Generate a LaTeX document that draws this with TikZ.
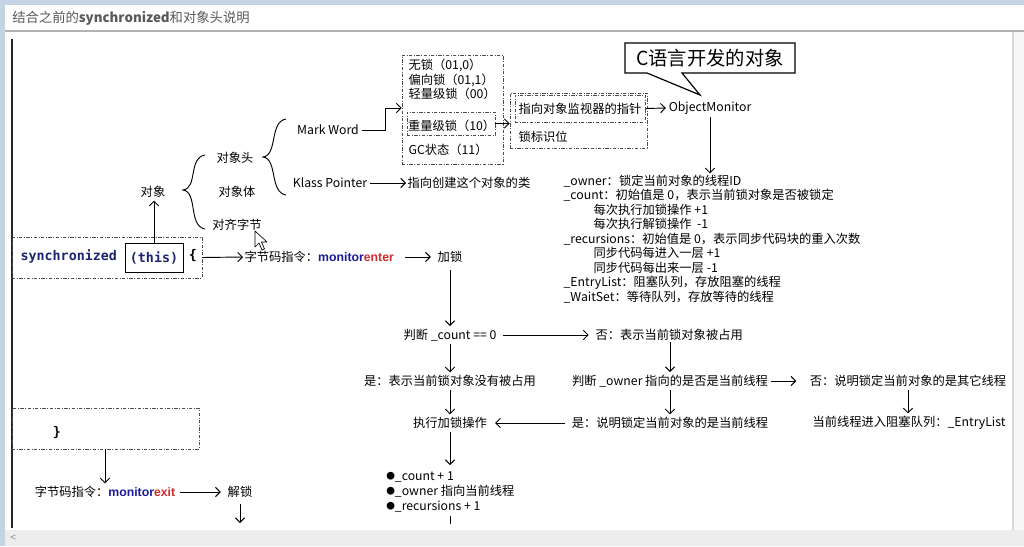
\documentclass[tikz,border=0pt]{standalone}
\usepackage{fontspec}
\setmainfont{Noto Sans CJK SC}
\newfontfamily\codefont{DejaVu Sans Mono}
\newfontfamily\latb{Liberation Sans}
\usetikzlibrary{arrows.meta}
\definecolor{navy}{HTML}{1B2570}
\definecolor{mblue}{HTML}{1A1A9A}
\definecolor{mred}{HTML}{D22B2B}
\definecolor{winblue}{HTML}{C5D3E4}
\definecolor{bargray}{HTML}{EDEDED}
\newcommand{\blt}{\raisebox{0.6pt}{\fontsize{6.5}{7}\selectfont ●}}
\begin{document}
\begin{tikzpicture}[x=0.75pt,y=-0.75pt,
  font=\fontsize{9.2}{11}\selectfont,
  arr/.style={-{Straight Barb[length=3.5pt,width=7pt]}, line width=0.7pt},
  ln/.style={line width=0.7pt},
  dbox/.style={draw=black!70, line width=0.6pt, dash pattern=on 2.5pt off 1.2pt on 0.6pt off 1.2pt},
  txt/.style={inner sep=1pt, anchor=west},
  ctxt/.style={inner sep=2pt},
  mon/.style={font=\fontsize{9.2}{11}\selectfont\latb\bfseries}
]
\useasboundingbox (0,0) rectangle (1024,546);
% ---------- window frame ----------
\fill[white] (0,0) rectangle (1024,546);
\fill[winblue] (0,0) rectangle (1024,5);
\fill[winblue] (0,0) rectangle (5,546);
\draw[black!30, line width=0.8pt] (5,31) -- (1024,31);
\fill[black!3] (1013,32) rectangle (1024,530);
\draw[black!15, line width=0.8pt] (1013,32) -- (1013,530);
\fill[bargray] (5,530) rectangle (1024,546);
\node[text=black!45, inner sep=0, font=\fontsize{8}{9}\selectfont] (lt) at (13,538) {<};
\draw[black!85, line width=1pt] (12,39) -- (12,528);
\node[anchor=west, inner sep=0, text=black!65, font=\fontsize{10}{12}\selectfont] (title) at (12,18) {结合之前的{\bfseries synchronized}和对象头说明};

% ---------- object structure ----------
\node[ctxt] (obj) at (153,192) {对象};
\node[ctxt] (head) at (235,158) {对象头};
\node[ctxt] (body) at (237,192) {对象体};
\node[ctxt] (pad) at (237,225) {对齐字节};
\draw[ln] (205,155) .. controls (188,158) and (198,188) .. (183,190) .. controls (198,192) and (188,226) .. (205,229);
\draw[ln] (286,119) .. controls (269,122) and (278,155) .. (263,157) .. controls (278,159) and (269,192) .. (286,195);
\node[ctxt] (mw) at (328,130) {Mark Word};
\node[ctxt] (kp) at (330,183) {Klass Pointer};
\node[txt] (kcls) at (406,183) {指向创建这个对象的类};

% states box
\node[dbox, minimum width=101*0.75pt, minimum height=109*0.75pt, inner sep=0] (states) at (452.5,109.5) {};
\node[txt] (s1) at (407,65) {无锁（01,0）};
\node[txt] (s2) at (407,80) {偏向锁（01,1）};
\node[txt] (s3) at (407,94) {轻量级锁（00）};
\node[dbox, minimum width=88*0.75pt, minimum height=23*0.75pt, inner sep=0, text width=86*0.75pt] (hw) at (451,123.5) {\hspace{1pt}重量级锁（10）};
\node[txt] (gc) at (407,150) {GC状态（11）};

% pointer box
\node[dbox, minimum width=137*0.75pt, minimum height=55*0.75pt, inner sep=0] (ptrout) at (578.5,120.5) {};
\node[dbox, minimum width=130*0.75pt, minimum height=27*0.75pt, inner sep=0] (ptrin) at (580,108.5) {指向对象监视器的指针};
\node[txt] (flag) at (517,137) {锁标识位};
\node[ctxt] (om) at (710,108) {ObjectMonitor};

% callout
\draw[line width=0.9pt, fill=white] (625,43) -- (795,43) -- (795,73) -- (682,73) -- (700,95) -- (647,73) -- (625,73) -- cycle;
\node[inner sep=0, font=\fontsize{14.5}{16}\selectfont] (callout) at (710,58) {C语言开发的对象};

\coordinate (mwbend) at (385,108);
\draw[arr] (mw.east) -| (mwbend) -- (mwbend -| states.west);
\draw[arr] (hw.east) -- (hw.east -| ptrout.west);
\draw[arr] (ptrin.east) -- (om.west);
\draw[arr] (kp.east) -- (kcls.west);

% ObjectMonitor fields
\node[txt] (own) at (562,181) {\_owner：锁定当前对象的线程ID};
\node[txt] (cnt) at (562,195) {\_count：初始值是 0，表示当前锁对象是否被锁定};
\node[txt] (c1) at (592,210) {每次执行加锁操作 +1};
\node[txt] (c2) at (592,224) {每次执行解锁操作 \ -1};
\node[txt] (rec) at (562,239) {\_recursions：初始值是 0，表示同步代码块的重入次数};
\node[txt] (r1) at (592,253) {同步代码每进入一层 +1};
\node[txt] (r2) at (592,268) {同步代码每出来一层 -1};
\node[txt] (el) at (562,283) {\_EntryList：阻塞队列，存放阻塞的线程};
\node[txt] (ws) at (562,297) {\_WaitSet：等待队列，存放等待的线程};
\draw[arr] (om.south) -- (om.south |- own.north);

% synchronized block
\node[dbox, minimum width=190*0.75pt, minimum height=41*0.75pt, inner sep=0] (syncbox) at (107,257.5) {};
\node[txt, text=navy, font=\fontsize{10}{12}\selectfont\codefont\bfseries] (sync) at (19,256) {synchronized};
\node[draw, line width=0.7pt, minimum width=58*0.75pt, minimum height=29*0.75pt, inner sep=0, text=navy, font=\fontsize{10}{12}\selectfont\codefont\bfseries] (this) at (154,257.5) {(this)};
\node[inner sep=0, font=\fontsize{10}{12}\selectfont\codefont\bfseries] (brace) at (193,256) {\{};
\draw[arr] (this.north) -- (this.north |- obj.south);

\node[txt] (menter) at (243,257) {字节码指令：{\latb\bfseries\color{mblue}monitor\color{mred}enter}};
\draw[arr] (syncbox.east) -- (menter.west);
\node[ctxt] (lock) at (450,257) {加锁};
\draw[arr] ([xshift=7pt]menter.east) -- ([xshift=-3pt]lock.west);

% flow
\node[ctxt] (pd1) at (450,335) {判断 \_count == 0};
\node[txt] (fou1) at (594,335) {否：表示当前锁对象被占用};
\node[ctxt] (shi1) at (450,381) {是：表示当前锁对象没有被占用};
\node[ctxt] (exec) at (450,423) {执行加锁操作};
\node[ctxt] (pd2) at (670,381) {判断 \_owner 指向的是否是当前线程};
\node[ctxt] (fou2) at (908,381) {否：说明锁定当前对象的是其它线程};
\node[ctxt] (shi2) at (670,423) {是：说明锁定当前对象的是当前线程};
\node[ctxt] (entry) at (909,423) {当前线程进入阻塞队列：\_EntryList};

\draw[arr] (lock.south) ++(0,4) -- (lock.south |- pd1.north);
\draw[arr] (pd1.east) ++(4,0) -- ([xshift=-4pt]fou1.west);
\draw[arr] (pd1.south) -- (pd1.south |- shi1.north);
\draw[arr] (shi1.south) -- (shi1.south |- exec.north);
\draw[arr] (pd2.north |- fou1.south) -- (pd2.north);
\draw[arr] (pd2.east) -- ([xshift=-8pt]fou2.west);
\draw[arr] (pd2.south) -- (shi2.north);
\draw[arr] (fou2.south) -- (fou2.south |- entry.north);
\draw[arr] (shi2.west) ++(-4,0) -- ([xshift=4pt]exec.east);

\node[anchor=north west, inner sep=0, align=left, font=\fontsize{9.2}{11.25}\selectfont] (bul) at (386,471) {\blt\_count + 1\\\blt\_owner 指向当前线程\\\blt\_recursions + 1};
\draw[arr, shorten >=4.5pt] (exec.south) -- (exec.south |- bul.north);
\coordinate (stubA) at (450,516);
\coordinate (stubB) at (450,524);
\draw[ln] (stubA) -- (stubB);

% closing block
\node[dbox, minimum width=187*0.75pt, minimum height=41*0.75pt, inner sep=0] (closebox) at (105.5,428.5) {};
\node[inner sep=0, font=\fontsize{10}{12}\selectfont\codefont\bfseries] (cbrace) at (57,433) {\}};
\node[ctxt] (mexit) at (105,492) {字节码指令：{\latb\bfseries\color{mblue}monitor\color{mred}exit}};
\draw[arr] (mexit.north |- closebox.south) -- (mexit.north);
\node[ctxt] (unlock) at (240,492) {解锁};
\draw[arr] (mexit.east) ++(2,0) -- ([xshift=-3pt]unlock.west);
\coordinate (unlockend) at (240,523);
\draw[arr] (unlock.south) ++(0,3) -- (unlockend);

% mouse cursor
\draw[line width=0.5pt, fill=white, line join=round] (255,231) -- (255,247) -- (259,243) -- (262,250) -- (264.5,249) -- (261.5,242) -- (267,242) -- cycle;
\end{tikzpicture}
\end{document}
